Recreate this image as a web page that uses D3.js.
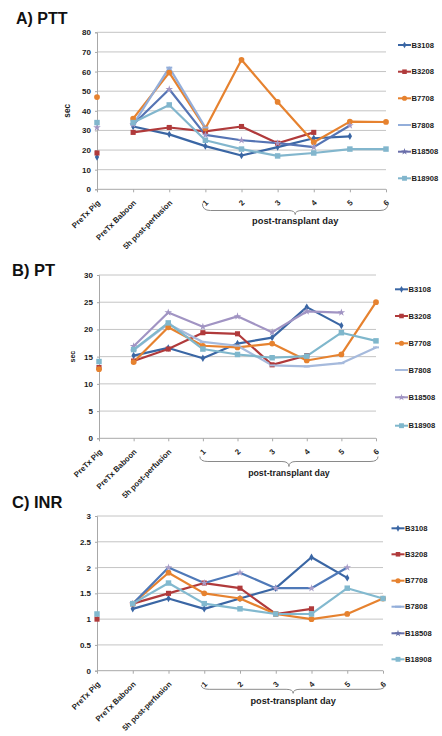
<!DOCTYPE html>
<html>
<head>
<meta charset="utf-8">
<script src="https://cdn.jsdelivr.net/npm/d3@7"></script>
<style>
  html, body { margin: 0; padding: 0; background: #fff; }
  svg { display: block; font-family: "Liberation Sans", Arial, sans-serif; }
</style>
</head>
<body>
<svg id="chart" width="442" height="736"></svg>
<script>
// ---------- DATA ----------
const categories = ["PreTx Pig", "PreTx Baboon", "5h post-perfusion", "1", "2", "3", "4", "5", "6"];
const seriesNames = ["B3108", "B3208", "B7708", "B7808", "B18508", "B18908"];

// A) PTT (sec)
const ptt_B3108  = [16.5, 32, 28, 22, 17.2, 21.5, 26, 27, null];
const ptt_B3208  = [18.5, 29, 31.5, 29.5, 32, 23.5, 29, null, null];
const ptt_B7708  = [47, 36, 59.5, 31, 66, 44.5, 24, 34.5, 34.3];
const ptt_B7808  = [null, 33, 62, 31.5, null, null, null, null, null];
const ptt_B18508 = [31.5, 33, 51, 27.7, 25, 23.5, 21.5, 32.5, null];
const ptt_B18908 = [34, 34, 43, 25, 20.5, 17, 18.5, 20.5, 20.5];
const pttTicks = [0, 10, 20, 30, 40, 50, 60, 70, 80];

// B) PT (sec)
const pt_B3108  = [null, 15.2, 16.6, 14.7, 17.4, 18.5, 24.1, 20.7, null];
const pt_B3208  = [13.0, 14.2, 16.4, 19.4, 19.2, 13.5, 15.2, null, null];
const pt_B7708  = [12.7, 14.0, 20.4, 17.0, 16.7, 17.4, 14.3, 15.4, 25.0];
const pt_B7808  = [null, 16.2, 21.0, 17.7, 17.0, 13.4, 13.2, 13.8, 16.7];
const pt_B18508 = [null, 16.9, 23.1, 20.5, 22.4, 19.5, 23.3, 23.1, null];
const pt_B18908 = [14.1, 16.3, 21.2, 16.4, 15.4, 14.8, 15.1, 19.4, 17.9];
const ptTicks = [0, 5, 10, 15, 20, 25, 30];

// C) INR
const inr_B3108  = [null, 1.2, 1.4, 1.2, 1.4, 1.6, 2.2, 1.8, null];
const inr_B3208  = [1.0, 1.3, 1.5, 1.7, 1.6, 1.1, 1.2, null, null];
const inr_B7708  = [null, 1.3, 1.9, 1.5, 1.4, 1.1, 1.0, 1.1, 1.4];
const inr_B7808  = [null, null, null, null, null, null, null, null, null];
const inr_B18508 = [null, 1.3, 2.0, 1.7, 1.9, 1.6, 1.6, 2.0, null];
const inr_B18908 = [1.1, 1.3, 1.7, 1.3, 1.2, 1.1, 1.1, 1.6, 1.4];
const inrTicks = [0, 0.5, 1, 1.5, 2, 2.5, 3];

// ---------- STYLES ----------
const markerShapes = [d3.symbolDiamond, d3.symbolSquare, d3.symbolCircle, "dash", d3.symbolStar, d3.symbolSquare];
const markerSizes = [16, 26, 26, 0, 18, 30];

const panels = [
  {
    title: "A) PTT", titleX: 16, titleY: 23.5, titleSize: 16,
    data: [ptt_B3108, ptt_B3208, ptt_B7708, ptt_B7808, ptt_B18508, ptt_B18908],
    ticks: pttTicks, fmt: d => d,
    x0: 97, x1: 386, yTop: 32.3, yBot: 189.3,
    lineColors: ["#3A66A4", "#B03A3B", "#E6822F", "#93AEDA", "#5574B4", "#82B6CD"],
    markColors: ["#3A66A4", "#B03A3B", "#E6822F", "#93AEDA", "#A296C4", "#82B6CD"],
    legendColors: ["#3A66A4", "#B03A3B", "#E6822F", "#93AEDA", "#6A6FAA", "#82B6CD"],
    legX: 398, legY: [45, 71.7, 98.3, 125, 151.7, 178.3],
    yLabel: "sec", yLabelX: 70, yLabelSize: 8.2,
    braceY: [203.5, 210.5, 214.5], dayLabelY: 224, dayLabelSize: 9.3
  },
  {
    title: "B) PT", titleX: 12, titleY: 275.5, titleSize: 16.5,
    data: [pt_B3108, pt_B3208, pt_B7708, pt_B7808, pt_B18508, pt_B18908],
    ticks: ptTicks, fmt: d => d,
    x0: 99, x1: 376, yTop: 275, yBot: 438.3,
    lineColors: ["#3A66A4", "#B03A3B", "#E6822F", "#A6BADC", "#A194C3", "#7FB7CC"],
    markColors: ["#3A66A4", "#B03A3B", "#E6822F", "#A6BADC", "#A194C3", "#7FB7CC"],
    legendColors: ["#3A66A4", "#B03A3B", "#E6822F", "#A6BADC", "#A194C3", "#7FB7CC"],
    legX: 395, legY: [289.3, 316, 343.3, 370, 397.3, 425.7],
    yLabel: "sec", yLabelX: 75, yLabelSize: 7,
    braceY: [456.5, 461.5, 466.5], dayLabelY: 475.5, dayLabelSize: 8.8
  },
  {
    title: "C) INR", titleX: 12, titleY: 507.5, titleSize: 16.5,
    data: [inr_B3108, inr_B3208, inr_B7708, inr_B7808, inr_B18508, inr_B18908],
    ticks: inrTicks, fmt: d => d,
    x0: 97, x1: 383, yTop: 516, yBot: 670.7,
    lineColors: ["#3A66A4", "#B03A3B", "#E6822F", "#93AEDA", "#4F79B8", "#82B9CF"],
    markColors: ["#3A66A4", "#B03A3B", "#E6822F", "#93AEDA", "#A89DC8", "#82B9CF"],
    legendColors: ["#3A66A4", "#B03A3B", "#E6822F", "#93AEDA", "#6670AA", "#82B9CF"],
    legX: 391.5, legY: [528.3, 554.3, 580.7, 606.7, 633.3, 659.3],
    yLabel: null,
    braceY: [685, 689.3, 693.3], dayLabelY: 704, dayLabelSize: 9.2
  }
];

const svg = d3.select("#chart");
const textColor = "#1b1b1b";

function drawMarker(g, i, color, x, y, scale) {
  const s = scale || 1;
  if (markerShapes[i] === "dash") {
    g.append("line").attr("x1", x - 3).attr("x2", x + 3).attr("y1", y).attr("y2", y)
      .attr("stroke", color).attr("stroke-width", 2);
  } else {
    g.append("path").attr("d", d3.symbol().type(markerShapes[i]).size(markerSizes[i] * s)())
      .attr("transform", `translate(${x},${y})`).attr("fill", color);
  }
}

panels.forEach(p => {
  const g = svg.append("g");
  const x = d3.scalePoint().domain(categories).range([p.x0, p.x1]).padding(0);
  const yMax = p.ticks[p.ticks.length - 1];
  const y = d3.scaleLinear().domain([0, yMax]).range([p.yBot, p.yTop]);

  // title
  g.append("text").attr("x", p.titleX).attr("y", p.titleY).text(p.title)
    .attr("font-size", p.titleSize).attr("font-weight", "bold").attr("fill", "#111");

  // gridlines
  g.append("g").selectAll("line").data(p.ticks).join("line")
    .attr("x1", p.x0).attr("x2", p.x1)
    .attr("y1", d => y(d)).attr("y2", d => y(d))
    .attr("stroke", d => d === 0 ? "#A8A8A8" : "#C4C4C4").attr("stroke-width", 1);

  // y axis
  const yAxis = d3.axisLeft(y).tickValues(p.ticks).tickFormat(p.fmt).tickSize(2).tickPadding(4);
  const ya = g.append("g").attr("transform", `translate(${p.x0},0)`).call(yAxis);
  ya.select(".domain").attr("stroke", "#A8A8A8");
  ya.selectAll(".tick line").attr("stroke", "#A8A8A8");
  ya.selectAll(".tick text").attr("font-size", 8).attr("font-weight", "bold")
    .attr("fill", textColor).attr("font-family", "Liberation Sans, Arial, sans-serif");

  // x axis ticks
  const xAxis = d3.axisBottom(x).tickSize(3).tickFormat("");
  const xa = g.append("g").attr("transform", `translate(0,${p.yBot})`).call(xAxis);
  xa.select(".domain").remove();
  xa.selectAll(".tick line").attr("stroke", "#A8A8A8");

  // x labels rotated
  g.append("g").selectAll("text").data(categories).join("text")
    .attr("transform", d => `translate(${x(d) + 3.5},${p.yBot + 14}) rotate(-45)`)
    .attr("text-anchor", "end")
    .attr("font-size", 7.8).attr("font-weight", "bold").attr("fill", textColor)
    .text(d => d);

  // y label
  if (p.yLabel) {
    g.append("text")
      .attr("transform", `translate(${p.yLabelX},${(p.yTop + p.yBot) / 2}) rotate(-90)`)
      .attr("text-anchor", "middle").attr("font-size", p.yLabelSize).attr("font-weight", "bold")
      .attr("fill", textColor).text(p.yLabel);
  }

  // brace under post-transplant days
  const bx1 = x("1") - 3, bx2 = x("6") + 2, bm = (bx1 + bx2) / 2;
  const [yt, ym, yp] = p.braceY;
  const brace = `M${bx1},${yt} Q${bx1},${ym} ${bx1 + 8},${ym} L${bm - 7},${ym} Q${bm},${ym} ${bm},${yp} Q${bm},${ym} ${bm + 7},${ym} L${bx2 - 8},${ym} Q${bx2},${ym} ${bx2},${yt}`;
  g.append("path").attr("d", brace).attr("fill", "none").attr("stroke", "#8A8A8A").attr("stroke-width", 1);
  g.append("text").attr("x", bm).attr("y", p.dayLabelY).attr("text-anchor", "middle")
    .attr("font-size", p.dayLabelSize).attr("font-weight", "bold").attr("fill", textColor)
    .text("post-transplant day");

  // series lines (pre-transplant pig value shown as an isolated point)
  p.data.forEach((vals, i) => {
    const pts = vals.map((v, k) => ({ c: categories[k], v, k }));
    const line = d3.line().defined(d => d.v != null && d.k >= 1)
      .x(d => x(d.c)).y(d => y(d.v));
    g.append("path").datum(pts).attr("d", line).attr("fill", "none")
      .attr("stroke", p.lineColors[i]).attr("stroke-width", 2.2)
      .attr("stroke-linejoin", "round").attr("stroke-linecap", "round");
  });
  p.data.forEach((vals, i) => {
    const mg = g.append("g");
    vals.forEach((v, k) => {
      if (v == null) return;
      drawMarker(mg, i, p.markColors[i], x(categories[k]), y(v));
    });
  });

  // legend
  const lg = g.append("g");
  seriesNames.forEach((name, i) => {
    const ly = p.legY[i];
    lg.append("line").attr("x1", p.legX).attr("x2", p.legX + 13).attr("y1", ly).attr("y2", ly)
      .attr("stroke", p.legendColors[i]).attr("stroke-width", 2);
    drawMarker(lg, i, p.legendColors[i], p.legX + 6.5, ly, 0.8);
    lg.append("text").attr("x", p.legX + 13.5).attr("y", ly).attr("dy", "0.35em")
      .attr("font-size", 7.6).attr("font-weight", "bold").attr("fill", textColor).text(name);
  });
});
</script>
</body>
</html>
